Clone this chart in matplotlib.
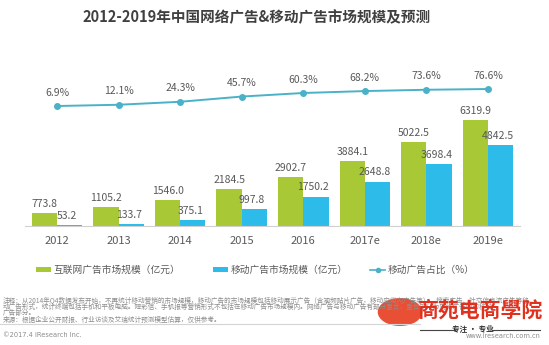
import numpy as np
import matplotlib
matplotlib.use('Agg')
import matplotlib.pyplot as plt
from matplotlib.patches import Patch, Circle
from matplotlib.lines import Line2D

plt.rcParams['font.family'] = ['Noto Sans CJK SC', 'DejaVu Sans']

years = ['2012', '2013', '2014', '2015', '2016', '2017e', '2018e', '2019e']
internet_ads = [773.8, 1105.2, 1546.0, 2184.5, 2902.7, 3884.1, 5022.5, 6319.9]
mobile_ads = [53.2, 133.7, 375.1, 997.8, 1750.2, 2648.8, 3698.4, 4842.5]
mobile_share = [6.9, 12.1, 24.3, 45.7, 60.3, 68.2, 73.6, 76.6]

GREEN = '#A8C935'
BLUE = '#2DBBEA'
LINE = '#4AB2C8'
TEXT = '#595959'

W, H = 549, 345


def fx(px):
    return px / W


def fy(py):
    return 1 - py / H


fig = plt.figure(figsize=(W / 100, H / 100), dpi=100)
fig.patch.set_facecolor('white')

ax = fig.add_axes([fx(25), fy(226), fx(495), 166 / H])
x = np.arange(len(years))
w = 0.41

ax.bar(x - w / 2, internet_ads, width=w, color=GREEN)
ax.bar(x + w / 2, mobile_ads, width=w, color=BLUE)
for xi, v in zip(x, internet_ads):
    ax.annotate(f'{v:.1f}', (xi - w / 2, v), xytext=(0, 3), textcoords='offset points',
                ha='center', va='bottom', fontsize=7.5, color=TEXT)
for xi, v in zip(x, mobile_ads):
    ax.annotate(f'{v:.1f}', (xi + w / 2 - 0.04, v), xytext=(0, 3), textcoords='offset points',
                ha='center', va='bottom', fontsize=7.5, color=TEXT)

ax.set_xlim(-0.52, 7.52)
ax.set_ylim(0, 9897)
ax.set_xticks(x)
ax.set_xticklabels(years, fontsize=8, color=TEXT)
ax.tick_params(axis='x', length=0, pad=7)
ax.set_yticks([])
for s in ['top', 'left', 'right']:
    ax.spines[s].set_visible(False)
ax.spines['bottom'].set_color('#D0D0D0')
ax.spines['bottom'].set_linewidth(0.8)

# share of mobile ads on its own scale
ax2 = ax.twinx()
ax2.plot(x, mobile_share, color=LINE, lw=1.4, marker='o', ms=4,
         markerfacecolor=LINE, markeredgecolor=LINE, zorder=3)
for xi, v in zip(x, mobile_share):
    ax2.annotate(f'{v:.1f}%', (xi, v), xytext=(0, 6), textcoords='offset points',
                 ha='center', va='bottom', fontsize=7.5, color=TEXT)
ax2.set_ylim(-485, 195.6)
ax2.set_yticks([])
for s in ax2.spines.values():
    s.set_visible(False)

fig.text(fx(257), fy(17), '2012-2019年中国网络广告&移动广告市场规模及预测',
         ha='center', va='center', fontsize=10.5, fontweight='bold', color='#404040')

# legend, one entry per slot
legend_items = [
    (Patch(facecolor=GREEN, edgecolor='none'), '互联网广告市场规模（亿元）', 31),
    (Patch(facecolor=BLUE, edgecolor='none'), '移动广告市场规模（亿元）', 208),
    (Line2D([], [], color=LINE, lw=1.2, marker='o', ms=3), '移动广告占比（%）', 365),
]
for handle, label, px in legend_items:
    fig.legend([handle], [label], loc='center left', bbox_to_anchor=(fx(px), fy(270)),
               frameon=False, fontsize=7, handlelength=1.6, handleheight=0.5,
               handletextpad=0.25, borderpad=0, labelcolor=TEXT)

notes = [
    '注释：从2014年Q4数据发布开始，不再统计移动营销的市场规模，移动广告的市场规模包括移动展示广告（含视频贴片广告，移动应用内广告等），搜索广告、社交信息流广告等移',
    '动广告形式，统计终端包括手机和平板电脑。短彩信、手机报等营销形式不包括在移动广告市场规模内。网络广告与移动广告有部分重合，重合部分为网络广告中的移动',
    '广告部分。',
    '来源：根据企业公开财报、行业访谈及艾瑞统计预测模型估算，仅供参考。',
]
for i, line in enumerate(notes):
    fig.text(fx(3), fy(300 + i * 6.5), line, ha='left', va='center', fontsize=4.75, color='#8C8C8C')

fig.add_artist(Line2D([0, fx(420)], [fy(324), fy(324)], color='#D5D5D5', lw=0.8))
fig.text(fx(3), fy(335), '©2017.4 iResearch Inc.', ha='left', va='center',
         fontsize=4.8, color='#8C8C8C', family='DejaVu Sans')
fig.text(fx(541), fy(336), 'www.iresearch.com.cn', ha='right', va='center',
         fontsize=4.8, color='#8C8C8C', family='DejaVu Sans')

# school watermark
logo = Circle((fx(400), fy(312)), 14 / H, transform=fig.transFigure, facecolor='#E8452A',
              edgecolor='none', alpha=0.95)
fig.add_artist(logo)
fig.text(fx(480), fy(310), '商苑电商學院', ha='center', va='center', fontsize=15,
         fontweight='bold', color='#E0301E', family=['Noto Sans CJK TC', 'DejaVu Sans'])
fig.text(fx(473), fy(329), '专注 · 专业', ha='center', va='center', fontsize=5.5,
         fontweight='bold', color='#333333')
fig.add_artist(Line2D([fx(420), fx(455)], [fy(330), fy(330)], color='#444444', lw=0.8))
fig.add_artist(Line2D([fx(492), fx(540)], [fy(330), fy(330)], color='#444444', lw=0.8))

fig.savefig('out.png', dpi=100)
